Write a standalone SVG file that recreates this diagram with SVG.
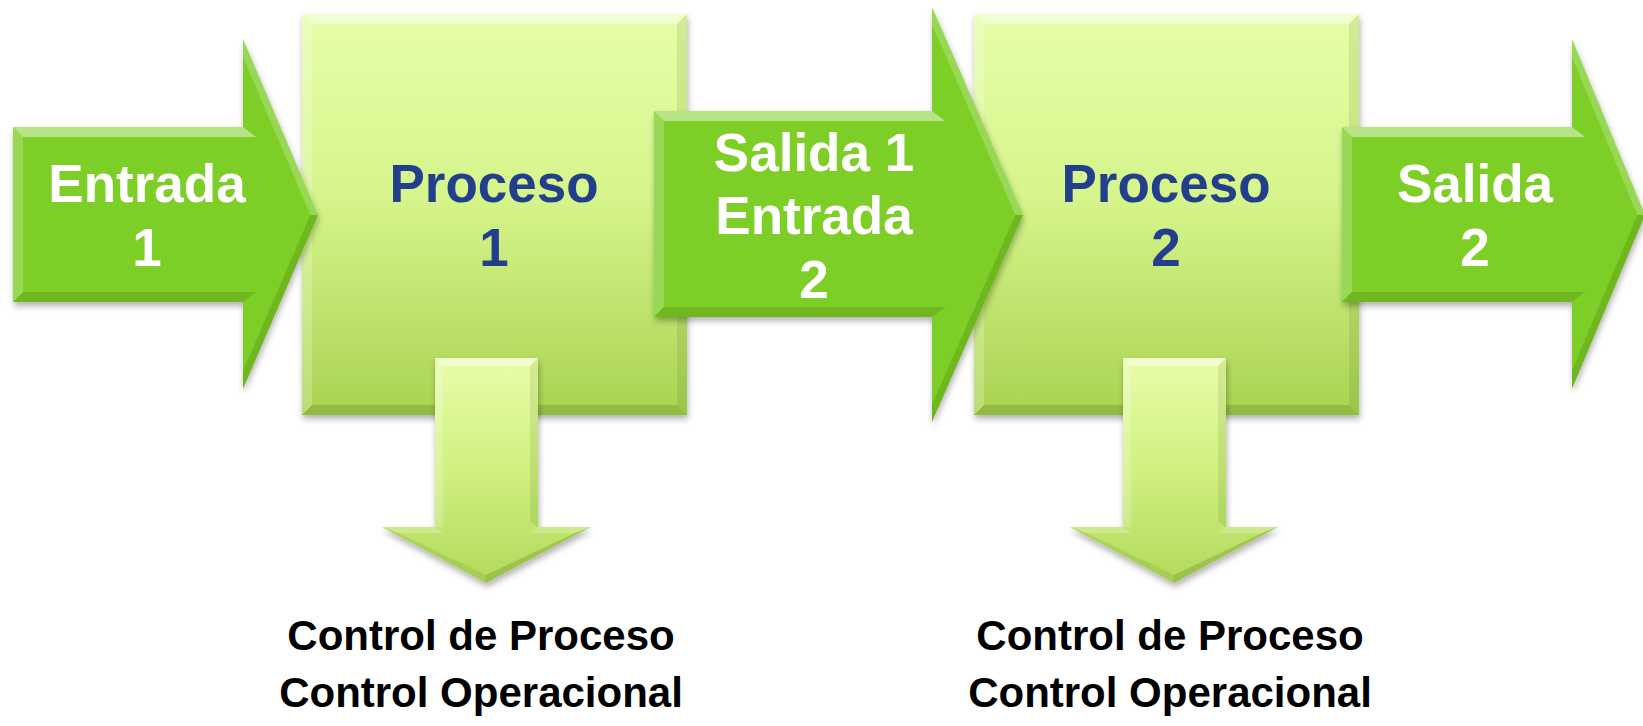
<svg xmlns="http://www.w3.org/2000/svg" width="1643" height="726" viewBox="0 0 1643 726">
<defs>
<linearGradient id="gBox" x1="0" y1="0" x2="0" y2="1">
<stop offset="0" stop-color="#e6fea9"/>
<stop offset="0.45" stop-color="#d6f58c"/>
<stop offset="1" stop-color="#a9d352"/>
</linearGradient>
<linearGradient id="gDown" x1="0" y1="0" x2="0" y2="1">
<stop offset="0" stop-color="#e8fdaa"/>
<stop offset="0.5" stop-color="#d0f080"/>
<stop offset="1" stop-color="#b2d95c"/>
</linearGradient>
<filter id="shadow" x="-10%" y="-10%" width="120%" height="125%">
<feDropShadow dx="1" dy="4" stdDeviation="3" flood-color="#000" flood-opacity="0.3"/>
</filter>
</defs>
<style>
.box{fill:url(#gBox);filter:url(#shadow)}
.arr{fill:#7dce25;filter:url(#shadow)}
.down{fill:url(#gDown);filter:url(#shadow)}
.hl{fill:#ffffff;opacity:0.45}
.hl2{fill:#ffffff;opacity:0.22}
.dk{fill:#3d6a0a;opacity:0.22}
.dk2{fill:#3d6a0a;opacity:0.12}
.t{font-family:"Liberation Sans",Arial,sans-serif;font-weight:bold;font-size:53px;text-anchor:middle}
.w{fill:#ffffff}
.b{fill:#233f8c}
.c{font-family:"Liberation Sans",Arial,sans-serif;font-weight:bold;font-size:42px;text-anchor:middle;fill:#000000}
</style>

<g id="proceso1">
<rect class="box" x="302" y="14" width="385" height="401"/>
<polygon class="hl" points="302,14 687,14 677,24 312,24"/>
<polygon class="hl2" points="302,14 312,24 312,405 302,415"/>
<polygon class="dk2" points="687,14 687,415 677,405 677,24"/>
<polygon class="dk" points="302,415 312,405 677,405 687,415"/>
<text class="t b" x="494" y="202">Proceso</text>
<text class="t b" x="494" y="266">1</text>
</g>

<g id="proceso2">
<rect class="box" x="974" y="14" width="385" height="401"/>
<polygon class="hl" points="974,14 1359,14 1349,24 984,24"/>
<polygon class="hl2" points="974,14 984,24 984,405 974,415"/>
<polygon class="dk2" points="1359,14 1359,415 1349,405 1349,24"/>
<polygon class="dk" points="974,415 984,405 1349,405 1359,415"/>
<text class="t b" x="1166" y="202">Proceso</text>
<text class="t b" x="1166" y="266">2</text>
</g>

<g id="entrada1">
<polygon class="arr" points="13,127 243,127 243,39 318,215 243,389 243,302 13,302"/>
<polygon class="hl" points="13,127 243,127 256,137 23,137"/>
<polygon class="hl2" points="13,127 23,137 23,292 13,302"/>
<polygon class="dk" points="13,302 23,292 256,292 243,302"/>
<polygon class="hl2" points="243,39 318,215 310.4,215 243,56.9"/>
<polygon class="dk" points="243,389 318,215 310.4,215 243,371.1"/>
<text class="t w" x="147" y="202">Entrada</text>
<text class="t w" x="147" y="266">1</text>
</g>

<g id="salida1-entrada2">
<polygon class="arr" points="654,111 932,111 932,7 1023,215 932,422 932,317 654,317"/>
<polygon class="hl" points="654,111 932,111 945,121 664,121"/>
<polygon class="hl2" points="654,111 664,121 664,307 654,317"/>
<polygon class="dk" points="654,317 664,307 945,307 932,317"/>
<polygon class="hl2" points="932,7 1023,215 1015.4,215 932,24.5"/>
<polygon class="dk" points="932,422 1023,215 1015.4,215 932,404.5"/>
<text class="t w" x="814" y="171">Salida 1</text>
<text class="t w" x="814" y="234">Entrada</text>
<text class="t w" x="814" y="298">2</text>
</g>

<g id="salida2">
<polygon class="arr" points="1342,127 1572,127 1572,39 1645,215 1572,389 1572,302 1342,302"/>
<polygon class="hl" points="1342,127 1572,127 1585,137 1352,137"/>
<polygon class="hl2" points="1342,127 1352,137 1352,292 1342,302"/>
<polygon class="dk" points="1342,302 1352,292 1585,292 1572,302"/>
<polygon class="hl2" points="1572,39 1645,215 1637.4,215 1572,57.3"/>
<polygon class="dk" points="1572,389 1645,215 1637.4,215 1572,370.7"/>
<text class="t w" x="1475" y="202">Salida</text>
<text class="t w" x="1475" y="266">2</text>
</g>

<g id="connectors">
<g id="down1">
<polygon class="down" points="435,358 538,358 538,527 591,527 486,583 382,527 435,527"/>
<polygon class="hl" points="435,358 538,358 530,366 443,366"/>
<polygon class="hl2" points="435,358 443,366 443,527 435,527"/>
<polygon class="dk2" points="538,358 538,527 530,521 530,366"/>
<polygon class="hl2" points="382,527 435,527 443,533 398,533"/>
<polygon class="hl2" points="538,527 591,527 575,533 530,533"/>
<polygon class="dk2" points="382,527 486,583 486,575 398,533"/>
<polygon class="dk" points="591,527 486,583 486,575 575,533"/>
</g>
<g id="down2">
<polygon class="down" points="1123,358 1226,358 1226,527 1278,527 1174,583 1070,527 1123,527"/>
<polygon class="hl" points="1123,358 1226,358 1218,366 1131,366"/>
<polygon class="hl2" points="1123,358 1131,366 1131,527 1123,527"/>
<polygon class="dk2" points="1226,358 1226,527 1218,521 1218,366"/>
<polygon class="hl2" points="1070,527 1123,527 1131,533 1086,533"/>
<polygon class="hl2" points="1226,527 1278,527 1262,533 1218,533"/>
<polygon class="dk2" points="1070,527 1174,583 1174,575 1086,533"/>
<polygon class="dk" points="1278,527 1174,583 1174,575 1262,533"/>
</g>
</g>

<g id="control1">
<text class="c" x="481" y="650">Control de Proceso</text>
<text class="c" x="481" y="707">Control Operacional</text>
</g>
<g id="control2">
<text class="c" x="1170" y="650">Control de Proceso</text>
<text class="c" x="1170" y="707">Control Operacional</text>
</g>
</svg>
